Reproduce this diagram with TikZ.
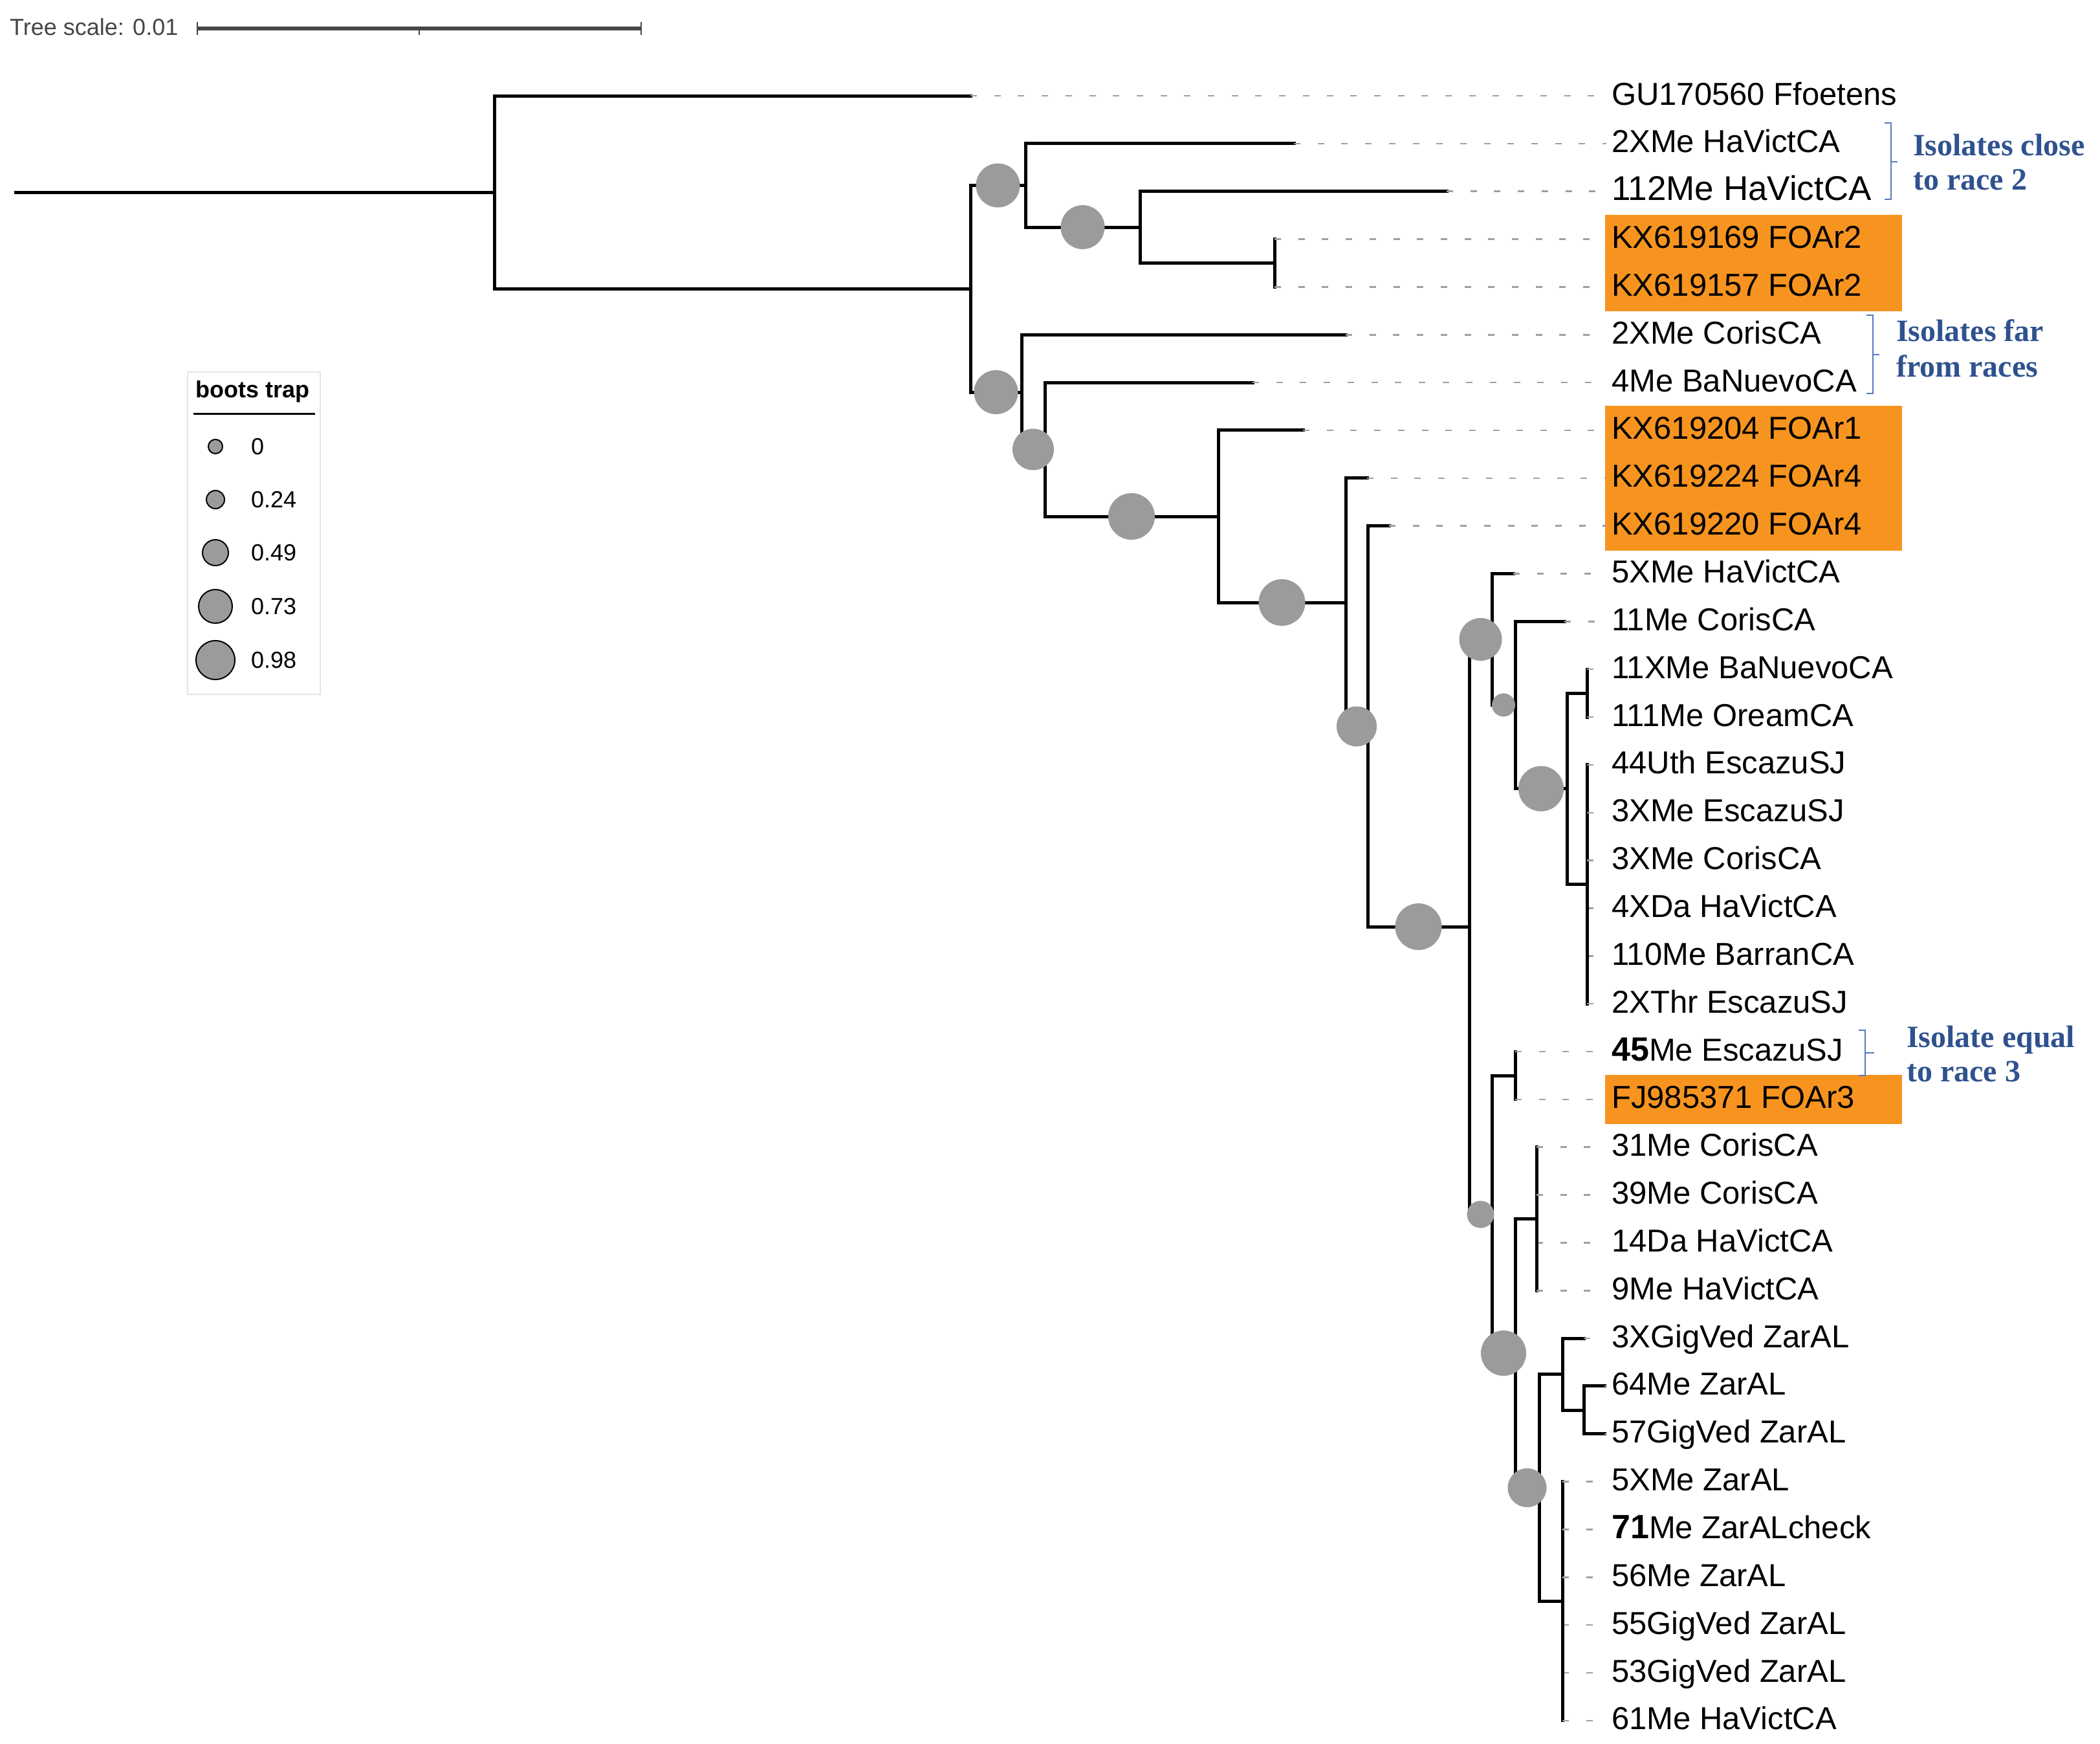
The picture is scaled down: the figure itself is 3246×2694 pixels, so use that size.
\documentclass[tikz,border=0pt]{standalone}
\usepackage{fontspec}
\setmainfont{Liberation Sans}
\newfontfamily\annotfont{Liberation Serif}
\usetikzlibrary{calc}
\definecolor{orng}{RGB}{247,148,32}
\definecolor{bsgray}{RGB}{155,155,155}
\definecolor{leadgray}{RGB}{160,160,160}
\definecolor{annblue}{RGB}{47,82,143}
\definecolor{brkblue}{RGB}{84,122,190}
\definecolor{scalegray}{RGB}{70,70,70}
\definecolor{boxgray}{RGB}{228,228,228}
\begin{document}
\begin{tikzpicture}[x=1pt,y=-1pt,
 branch/.style={line width=5pt, line cap=rect, line join=miter},
 leader/.style={draw=leadgray, line width=2.5pt, dash pattern=on 10pt off 26.7pt, shorten >=8pt},
 bs/.style={circle, fill=bsgray, inner sep=0pt},
 lbl/.style={anchor=base west, inner sep=0pt, font=\fontsize{49}{58}\selectfont},
 hl/.style={fill=orng},
 annot/.style={anchor=base west, inner sep=0pt, text=annblue, font=\annotfont\bfseries\fontsize{48}{58}\selectfont},
 brk/.style={draw=brkblue, line width=2.2pt},
 legc/.style={circle, fill=bsgray, draw=black, line width=2pt, inner sep=0pt},
 legt/.style={anchor=west, inner sep=0pt, font=\fontsize{36}{40}\selectfont},
]
\fill[white] (0,0) rectangle (3246,2694);
\useasboundingbox (0,0) rectangle (3246,2694);

% scale bar
\coordinate (sb0) at (305,44);
\coordinate (sb1) at (991,44);
\coordinate (sbm) at (648,44);
\draw[scalegray, line width=6pt] (sb0) -- (sb1);
\draw[scalegray, line width=2.5pt] ($(sb0)+(0,-10)$) -- ($(sb0)+(0,10)$);
\draw[scalegray, line width=2.5pt] ($(sb1)+(0,-10)$) -- ($(sb1)+(0,10)$);
\draw[scalegray, line width=2.5pt] (sbm) -- ($(sbm)+(0,10)$);
\node[anchor=base west, inner sep=0pt, text=scalegray, font=\fontsize{36}{40}\selectfont] (scl) at (15,54) {Tree scale: 0.01};

% highlight boxes
\fill[hl] (2481,332) rectangle (2940,481);
\fill[hl] (2481,627) rectangle (2940,851);
\fill[hl] (2481,1661) rectangle (2940,1737);

% internal nodes
\coordinate (r0) at (24,297);
\coordinate (root) at (764,297);
\coordinate (A) at (1500,446);
\coordinate (B) at (1585,286.5);
\coordinate (D) at (1762,351);
\coordinate (E) at (1970,406.5);
\coordinate (C) at (1579,606);
\coordinate (F) at (1615,694.5);
\coordinate (G) at (1883,798);
\coordinate (H) at (2080,931);
\coordinate (I) at (2114,1122.5);
\coordinate (J) at (2271,1432);
\coordinate (K) at (2306,988);
\coordinate (M) at (2342,1089.4);
\coordinate (N) at (2422,1218.75);
\coordinate (O) at (2453,1071);
\coordinate (P) at (2453,1366.5);
\coordinate (L) at (2306,1876.6);
\coordinate (R) at (2342,1662);
\coordinate (Q) at (2342,2091);
\coordinate (S) at (2375,1883.5);
\coordinate (T) at (2379,2299);
\coordinate (U) at (2415,2123.5);
\coordinate (W) at (2448,2179);
\coordinate (V) at (2415,2474.5);

\draw[branch] (r0) -- (root);
\foreach \pa/\ch in {root/A, A/B, A/C, B/D, D/E, C/F, F/G, G/H, H/I, I/J, J/K, J/L, K/M, M/N, N/O, N/P, L/R, L/Q, Q/S, Q/T, T/U, T/V, U/W}
  \draw[branch] (\pa) |- (\ch);

% leaves
\foreach \i/\pa/\tx/\txt in {
 0/root/1500/{GU170560 Ffoetens},
 1/B/2000/{2XMe HaVictCA},
 2/D/2236/{\fontsize{53}{58}\selectfont 112Me HaVictCA},
 3/E/1970/{KX619169 FOAr2},
 4/E/1970/{KX619157 FOAr2},
 5/C/2080/{2XMe CorisCA},
 6/F/1936/{4Me BaNuevoCA},
 7/G/2014/{KX619204 FOAr1},
 8/H/2113/{KX619224 FOAr4},
 9/I/2147/{KX619220 FOAr4},
 10/K/2339/{5XMe HaVictCA},
 11/M/2418/{11Me CorisCA},
 12/O/2453/{11XMe BaNuevoCA},
 13/O/2453/{111Me OreamCA},
 14/P/2453/{44Uth EscazuSJ},
 15/P/2453/{3XMe EscazuSJ},
 16/P/2453/{3XMe CorisCA},
 17/P/2453/{4XDa HaVictCA},
 18/P/2453/{110Me BarranCA},
 19/P/2453/{2XThr EscazuSJ},
 20/R/2342/{{\fontsize{52}{58}\selectfont\bfseries 45}Me EscazuSJ},
 21/R/2342/{FJ985371 FOAr3},
 22/S/2375/{31Me CorisCA},
 23/S/2375/{39Me CorisCA},
 24/S/2375/{14Da HaVictCA},
 25/S/2375/{9Me HaVictCA},
 26/U/2448/{3XGigVed ZarAL},
 27/W/2480/{64Me ZarAL},
 28/W/2480/{57GigVed ZarAL},
 29/V/2415/{5XMe ZarAL},
 30/V/2415/{{\fontsize{52}{58}\selectfont\bfseries 71}Me ZarALcheck},
 31/V/2415/{56Me ZarAL},
 32/V/2415/{55GigVed ZarAL},
 33/V/2415/{53GigVed ZarAL},
 34/V/2415/{61Me HaVictCA}}
{
  \coordinate (t\i) at (\tx, {148+73.85*\i});
  \draw[branch] (\pa) |- (t\i);
  \node[lbl] (l\i) at (2491, {162+73.85*\i}) {\txt};
  \draw[leader] (t\i) -- (t\i -| l\i.west);
}

% bootstrap circles
\foreach \pa/\ch/\r in {A/B/34, B/D/34, A/C/34, C/F/32, F/G/36, G/H/36, H/I/31, I/J/36, J/K/33, K/M/18, M/N/35, J/L/21, L/Q/35, Q/T/30}
  \node[bs, minimum size=2*\r pt] (c\ch) at ($(\pa|-\ch)!0.5!(\ch)$) {};

% annotations
\draw[brk] (2913,190) -- (2923,190) -- (2923,308) -- (2913,308);
\draw[brk] (2923,250) -- (2933,250);
\node[annot] (a1) at (2957,240) {Isolates close};
\node[annot] (a1b) at (2957,293) {to race 2};

\draw[brk] (2885,487) -- (2895,487) -- (2895,608) -- (2885,608);
\draw[brk] (2895,548) -- (2905,548);
\node[annot] (a2) at (2931,527) {Isolates far};
\node[annot] (a2b) at (2931,582) {from races};

\draw[brk] (2873,1592) -- (2883,1592) -- (2883,1662) -- (2873,1662);
\draw[brk] (2883,1627) -- (2897,1627);
\node[annot] (a3) at (2947,1618) {Isolate equal};
\node[annot] (a3b) at (2947,1671) {to race 3};

% legend
\draw[boxgray, line width=2pt] (290,575) rectangle (495,1073);
\node[anchor=base west, inner sep=0pt, font=\bfseries\fontsize{36}{40}\selectfont] (lgt) at (302,614) {boots trap};
\draw[line width=3pt] (299,639) -- (487,639);
\foreach \k/\yy/\r/\v in {1/690/11/0, 2/772/14/0.24, 3/854/20/0.49, 4/937/26/0.73, 5/1020/30/0.98}{
  \node[legc, minimum size=2*\r pt] (lc\k) at (333,\yy) {};
  \node[legt] (lv\k) at (388,\yy) {\v};
}
\end{tikzpicture}
\end{document}
